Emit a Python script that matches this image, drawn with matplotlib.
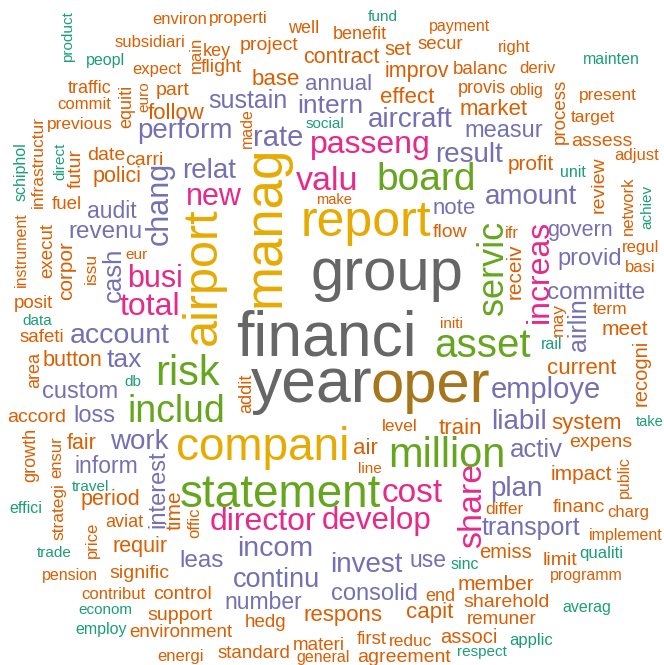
import matplotlib
matplotlib.use("Agg")
import matplotlib.pyplot as plt

# Dark2 palette, ordered from rarest to most frequent word
TIER_COLORS = {
    "teal": "#1B9E77",
    "orange": "#D95F02",
    "purple": "#7570B3",
    "pink": "#E7298A",
    "green": "#66A61E",
    "yellow": "#E6AB02",
    "brown": "#A6761D",
    "gray": "#666666",
}

# (word, font size pt, x, y, rotation) -- x/y in pixels, y measured from top.
# horizontal words: x = centre, y = baseline; vertical words: x = baseline, y = centre
gray_words = [
    ("financi", 45, 326, 355, 0),
    ("year", 45, 312, 402, 0),
    ("group", 43, 387, 290, 0),
]
brown_words = [
    ("oper", 43, 430, 402, 0),
]
yellow_words = [
    ("manag", 38, 280, 226, 90),
    ("airport", 35, 216, 276, 90),
    ("report", 36, 366, 236, 0),
    ("compani", 33, 263, 460, 0),
]
green_words = [
    ("statement", 33, 280, 507, 0),
    ("board", 28, 426, 190, 0),
    ("servic", 26, 503, 268, 90),
    ("million", 30, 447, 467, 0),
    ("asset", 29, 483, 357, 0),
    ("includ", 27, 176, 422, 0),
    ("risk", 30, 187, 385, 0),
]
pink_words = [
    ("passeng", 23, 370, 153, 0),
    ("valu", 24.5, 327, 190, 0),
    ("new", 22, 214, 205, 0),
    ("busi", 22, 155, 287, 0),
    ("total", 23, 150, 315, 0),
    ("increas", 23, 548, 271, 90),
    ("share", 24.5, 481, 505, 90),
    ("director", 23, 263, 530, 0),
    ("develop", 22.5, 377, 529, 0),
    ("cost", 24, 412, 502, 0),
]
purple_words = [
    ("perform", 20, 185, 138, 0),
    ("sustain", 18, 248, 108, 0),
    ("relat", 20, 209, 178, 0),
    ("rate", 21, 278, 146, 0),
    ("annual", 16, 339, 90, 0),
    ("intern", 19, 330, 113, 0),
    ("aircraft", 20, 410, 127, 0),
    ("chang", 22, 168, 203, 90),
    ("audit", 16.5, 112, 218, 0),
    ("revenu", 17.5, 105, 238, 0),
    ("cash", 18.5, 121, 275, 90),
    ("account", 20.5, 120, 343, 0),
    ("tax", 19, 124, 367, 0),
    ("custom", 17, 80, 398, 0),
    ("loss", 17, 94, 422, 0),
    ("work", 20, 139, 449, 0),
    ("inform", 16.5, 106, 473, 0),
    ("interest", 17, 164, 489, 90),
    ("leas", 17.5, 202, 567, 0),
    ("incom", 20.5, 275, 556, 0),
    ("continu", 19.5, 276, 587, 0),
    ("number", 16.5, 263, 609, 0),
    ("invest", 20, 366, 572, 0),
    ("consolid", 17, 374, 600, 0),
    ("use", 16.5, 428, 567, 0),
    ("plan", 20, 516, 496, 0),
    ("transport", 18, 531, 535, 0),
    ("activ", 18.5, 536, 457, 0),
    ("liabil", 20, 519, 429, 0),
    ("employe", 21, 546, 398, 0),
    ("airlin", 18, 586, 325, 90),
    ("committe", 17.5, 596, 299, 0),
    ("provid", 17, 590, 265, 0),
    ("govern", 15.5, 580, 236, 0),
    ("amount", 20, 531, 204, 0),
    ("note", 16, 454, 214, 0),
    ("result", 20, 469, 162, 0),
    ("measur", 17, 504, 137, 0),
]
orange_words = [
    ("environ", 12, 180, 24, 0),
    ("properti", 12.5, 238, 23, 0),
    ("well", 13, 304, 33, 0),
    ("benefit", 13, 360, 39, 0),
    ("project", 14, 269, 50, 0),
    ("key", 13, 217, 56, 0),
    ("main", 12, 201, 55, 90),
    ("flight", 14, 221, 72, 0),
    ("subsidiari", 12, 150, 47, 0),
    ("expect", 12, 157, 74, 0),
    ("traffic", 13, 90, 93, 0),
    ("commit", 12, 84, 109, 0),
    ("equiti", 13, 131, 106, 90),
    ("euro", 11, 148, 97, 90),
    ("part", 14, 173, 95, 0),
    ("follow", 16, 176, 119, 0),
    ("previous", 12.5, 80, 129, 0),
    ("infrastructur", 12.5, 43, 162, 90),
    ("futur", 14, 81, 168, 90),
    ("date", 14, 106, 160, 0),
    ("carri", 14, 144, 165, 0),
    ("made", 11.5, 252, 128, 90),
    ("base", 16, 276, 85, 0),
    ("contract", 15.5, 341, 63, 0),
    ("effect", 16, 407, 103, 0),
    ("improv", 15.5, 417, 77, 0),
    ("set", 14.5, 398, 55, 0),
    ("secur", 13.5, 440, 49, 0),
    ("payment", 11.5, 460, 31, 0),
    ("right", 12, 514, 52, 0),
    ("balanc", 13.5, 480, 74, 0),
    ("deriv", 12, 537, 73, 0),
    ("provis", 13, 482, 93, 0),
    ("oblig", 11.5, 526, 95, 0),
    ("process", 13.5, 565, 111, 90),
    ("present", 12.5, 608, 100, 0),
    ("market", 16, 494, 115, 0),
    ("target", 12.5, 593, 122, 0),
    ("assess", 14, 602, 146, 0),
    ("adjust", 12, 637, 160, 0),
    ("profit", 15, 531, 170, 0),
    ("review", 14, 604, 185, 90),
    ("network", 12, 633, 206, 90),
    ("flow", 14, 450, 237, 0),
    ("ifr", 12, 512, 238, 0),
    ("receiv", 15, 521, 271, 90),
    ("regul", 12, 641, 252, 0),
    ("basi", 12, 640, 272, 0),
    ("may", 12.5, 563, 319, 90),
    ("term", 12.5, 610, 314, 0),
    ("meet", 15, 625, 335, 0),
    ("initi", 11, 451, 328, 0),
    ("make", 10.5, 334, 204, 0),
    ("polici", 15.5, 117, 182, 0),
    ("fuel", 13.5, 67, 209, 0),
    ("instrument", 11.5, 26, 250, 90),
    ("execut", 13.5, 52, 250, 90),
    ("corpor", 15, 72, 271, 90),
    ("issu", 12.5, 96, 268, 90),
    ("eur", 11, 137, 259, 0),
    ("posit", 13.5, 33, 308, 0),
    ("safeti", 13.5, 42, 342, 0),
    ("area", 13, 39, 370, 90),
    ("button", 15.5, 72, 366, 0),
    ("accord", 14, 37, 422, 0),
    ("growth", 13, 35, 455, 90),
    ("ensur", 12, 61, 457, 90),
    ("fair", 15.5, 82, 449, 0),
    ("strategi", 12.5, 63, 512, 90),
    ("period", 15.5, 110, 505, 0),
    ("time", 15, 181, 510, 90),
    ("offic", 12, 199, 523, 90),
    ("aviat", 13, 124, 527, 0),
    ("price", 12, 97, 540, 90),
    ("requir", 15.5, 140, 552, 0),
    ("pension", 11.5, 70, 580, 0),
    ("signific", 14, 139, 578, 0),
    ("contribut", 12, 113, 599, 0),
    ("control", 14, 182, 599, 0),
    ("support", 14, 180, 620, 0),
    ("environment", 13.5, 181, 637, 0),
    ("energi", 12, 181, 661, 0),
    ("standard", 13.5, 254, 658, 0),
    ("addit", 13, 251, 393, 90),
    ("level", 12.5, 400, 431, 0),
    ("air", 16, 365, 454, 0),
    ("line", 11, 370, 473, 0),
    ("recogni", 14.5, 647, 373, 90),
    ("current", 16, 582, 374, 0),
    ("system", 16, 587, 429, 0),
    ("train", 16, 460, 434, 0),
    ("expens", 14, 601, 447, 0),
    ("impact", 15, 581, 480, 0),
    ("public", 11.5, 629, 477, 90),
    ("differ", 12.5, 504, 514, 0),
    ("financ", 14, 579, 512, 0),
    ("charg", 12, 628, 517, 0),
    ("implement", 11.5, 626, 540, 0),
    ("emiss", 14.5, 506, 558, 0),
    ("limit", 14, 560, 565, 0),
    ("programm", 11.5, 586, 580, 0),
    ("member", 15, 496, 590, 0),
    ("sharehold", 14, 507, 607, 0),
    ("remuner", 13.5, 502, 624, 0),
    ("associ", 14.5, 469, 643, 0),
    ("end", 13, 440, 601, 0),
    ("capit", 16, 430, 618, 0),
    ("respons", 16, 343, 621, 0),
    ("hedg", 13.5, 266, 627, 0),
    ("materi", 13.5, 319, 650, 0),
    ("first", 13.5, 372, 644, 0),
    ("reduc", 12.5, 411, 646, 0),
    ("general", 11.5, 323, 662, 0),
    ("agreement", 14, 404, 662, 0),
]
teal_words = [
    ("product", 11, 72, 37, 90),
    ("peopl", 11.5, 105, 65, 0),
    ("fund", 11, 383, 21, 0),
    ("social", 11, 325, 128, 0),
    ("schiphol", 11.5, 26, 172, 90),
    ("direct", 11, 64, 161, 90),
    ("mainten", 11.5, 611, 64, 0),
    ("unit", 11.5, 573, 177, 0),
    ("achiev", 11, 651, 207, 90),
    ("data", 11, 37, 325, 0),
    ("db", 11, 133, 386, 0),
    ("rail", 11.5, 552, 349, 0),
    ("take", 10.5, 650, 426, 0),
    ("travel", 11, 91, 491, 0),
    ("effici", 11.5, 26, 513, 0),
    ("trade", 11, 54, 557, 0),
    ("econom", 11, 105, 614, 0),
    ("employ", 11.5, 101, 634, 0),
    ("sinc", 11.5, 465, 569, 0),
    ("qualiti", 12, 601, 558, 0),
    ("averag", 11.5, 587, 612, 0),
    ("applic", 12, 531, 645, 0),
    ("respect", 11, 482, 656, 0),
]

groups = [
    (teal_words, "teal"),
    (orange_words, "orange"),
    (purple_words, "purple"),
    (pink_words, "pink"),
    (green_words, "green"),
    (yellow_words, "yellow"),
    (brown_words, "brown"),
    (gray_words, "gray"),
]

W, H = 664, 665
fig = plt.figure(figsize=(W / 100, H / 100), dpi=100)
ax = fig.add_axes([0, 0, 1, 1])
ax.set_xlim(0, W)
ax.set_ylim(H, 0)
ax.axis("off")

for words, tier in groups:
    for word, size, x, y, rot in words:
        ax.text(x, y, word, fontsize=size, color=TIER_COLORS[tier],
                family="Liberation Sans", rotation=rot, rotation_mode="anchor",
                ha="center", va="baseline")

fig.savefig("out.png", dpi=100, facecolor="white")
